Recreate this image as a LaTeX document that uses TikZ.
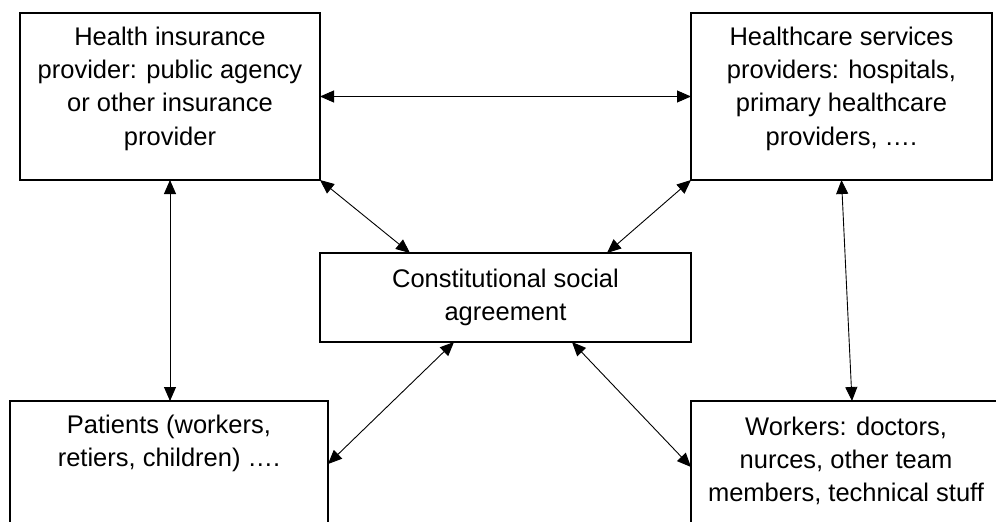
\documentclass[tikz,border=0pt]{standalone}
\usepackage{fontspec}
\setmainfont{Liberation Sans}
\usetikzlibrary{arrows.meta}
\begin{document}
\begin{tikzpicture}[x=1pt,y=-1pt,
  box/.style={draw, line width=1.3pt, rectangle, inner sep=0pt, outer sep=0pt},
  label/.style={anchor=north, inner sep=0pt, align=center,
    font={\fontsize{25.5}{33.3}\selectfont}},
  link/.style={line width=0.9pt,
    {Triangle[length=14pt,width=12pt]}-{Triangle[length=14pt,width=12pt]}}]
\useasboundingbox (0,0) rectangle (996,522);
\fill[white] (0,0) rectangle (996,522);
% boxes
\node[box, minimum width=300pt, minimum height=167pt] (tl) at (170,96.5) {};
\node[box, minimum width=301pt, minimum height=167pt] (tr) at (841.5,96.5) {};
\node[box, minimum width=371pt, minimum height=89pt] (cs) at (505.5,297.5) {};
\node[box, minimum width=318pt, minimum height=128pt] (bl) at (169,465) {};
\node[box, minimum width=310pt, minimum height=132pt] (br) at (846,467) {};
% texts
\node[label] (tlt) at ([yshift=-13.7pt]tl.north) {Health insurance\\provider: public agency\\or other insurance\\provider};
\node[label] (trt) at ([yshift=-13.7pt]tr.north) {Healthcare services\\providers: hospitals,\\primary healthcare\\providers, ….};
\node[label] (cst) at ([yshift=-15.7pt]cs.north) {Constitutional social\\agreement};
\node[label] (blt) at ([yshift=-13.7pt]bl.north) {Patients (workers,\\retiers, children) ….};
\node[label] (brt) at ([yshift=-15.7pt]br.north) {Workers: doctors,\\nurces, other team\\members, technical stuff};
% connectors
\draw[link] (tl.east) -- (tr.west);
\draw[link] (tl.south) -- (tl.south |- bl.north);
\draw[link] (tr.south) -- ([xshift=6pt]br.north);
\draw[link] (tl.south east) -- ([xshift=-95.5pt]cs.north);
\draw[link] (tr.south west) -- ([xshift=101.5pt]cs.north);
\draw[link] ([xshift=-51.5pt]cs.south) -- ([yshift=1pt]bl.east);
\draw[link] ([xshift=66.5pt]cs.south) -- (br.west);
\end{tikzpicture}
\end{document}
